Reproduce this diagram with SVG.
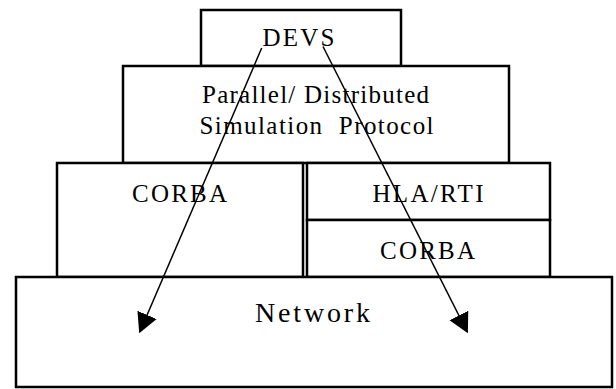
<svg xmlns="http://www.w3.org/2000/svg" width="616" height="389" viewBox="0 0 616 389">
<style>
.box{fill:#fff;stroke:#000;stroke-width:2.5}
.t{font-family:"Liberation Serif","Times New Roman",serif;font-size:25px;fill:#000}
.big{font-size:28px}
.conn{stroke:#000;stroke-width:1.5;fill:none;marker-end:url(#ah)}
</style>
<defs>
<marker id="ah" markerUnits="userSpaceOnUse" markerWidth="22" markerHeight="22" refX="18" refY="10.5" orient="auto">
<path d="M0,0 L20,10.5 L0,21 z" fill="#000"/>
</marker>
</defs>
<g id="devs"><rect class="box" x="201" y="10" width="200" height="56"/><text class="t" x="262.5" y="46" textLength="72" lengthAdjust="spacing">DEVS</text></g>
<g id="protocol"><rect class="box" x="123" y="66" width="386" height="97"/>
<text class="t" x="202" y="103" textLength="227" lengthAdjust="spacing">Parallel/ Distributed</text>
<text class="t" x="199.5" y="134" textLength="234" lengthAdjust="spacing" xml:space="preserve">Simulation  Protocol</text></g>
<g id="corba-left"><rect class="box" x="57" y="163" width="246" height="114"/><text class="t" x="132" y="202" textLength="95" lengthAdjust="spacing">CORBA</text></g>
<g id="hla-rti"><rect class="box" x="307" y="163" width="243" height="57"/><text class="t" x="372.5" y="202" textLength="111" lengthAdjust="spacing">HLA/RTI</text></g>
<g id="corba-right"><rect class="box" x="307" y="220" width="243" height="57"/><text class="t" x="380" y="259" textLength="95" lengthAdjust="spacing">CORBA</text></g>
<g id="network"><rect class="box" x="16" y="277" width="596" height="110"/><text class="t big" x="255" y="322" textLength="115" lengthAdjust="spacing">Network</text></g>
<g id="connectors">
<line class="conn" x1="261.7" y1="48" x2="140" y2="331.5"/>
<line class="conn" x1="323" y1="46.5" x2="467" y2="331.5"/>
</g>
</svg>
